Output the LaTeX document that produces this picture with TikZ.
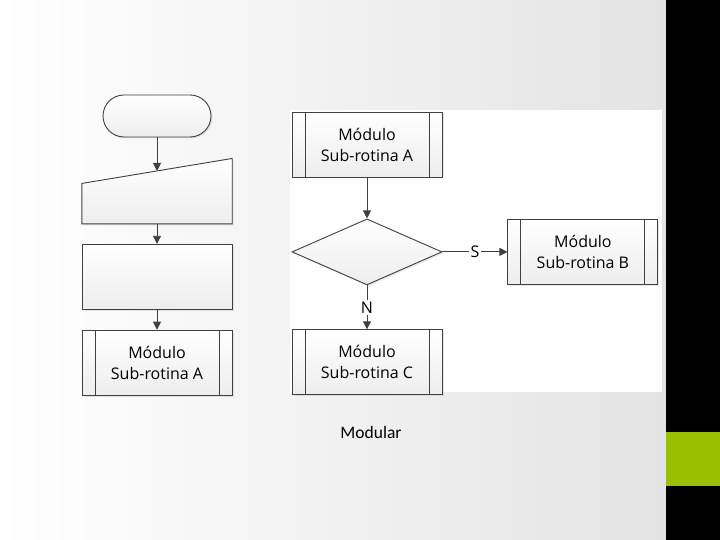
\documentclass[tikz,border=0pt]{standalone}
\usepackage{fontspec}
\setmainfont{Open Sans}
\newfontfamily\captionfont{Carlito}
\usetikzlibrary{shapes.geometric,arrows.meta,positioning,shadows}

\definecolor{linegray}{HTML}{404040}
\definecolor{slidegreen}{HTML}{99C000}

\begin{document}
\begin{tikzpicture}[x=1pt, y=1pt,
  box/.style={rectangle, draw=linegray, line width=0.9pt,
    top color=white, bottom color=gray!14,
    minimum width=150pt, minimum height=65pt, inner sep=0pt,
    font=\fontsize{16}{21}\selectfont, align=center,
    drop shadow={opacity=0.18, shadow xshift=1.5pt, shadow yshift=-1.5pt}},
  module/.style={box, path picture={
    \draw[linegray, line width=0.9pt]
      ([xshift=13pt]path picture bounding box.north west) --
      ([xshift=13pt]path picture bounding box.south west)
      ([xshift=-13pt]path picture bounding box.north east) --
      ([xshift=-13pt]path picture bounding box.south east);}},
  term/.style={box, rounded corners=21pt, minimum width=108pt,
    minimum height=42pt},
  decision/.style={box, diamond, minimum width=150pt, minimum height=66pt},
  arr/.style={-{Triangle[width=8pt,length=8pt]}, draw=linegray,
    line width=0.9pt},
  lbl/.style={font=\fontsize{16}{18}\selectfont, fill=white, inner sep=2pt}
]
  \useasboundingbox (0,0) rectangle (720,540);
  % slide background
  \shade[left color=white, right color=black!11] (0,0) rectangle (666,540);
  \fill[black] (666,0) rectangle (720,540);
  \fill[slidegreen] (666,54) rectangle (720,108);
  \fill[white] (290,148) rectangle (662,430);

  % left flowchart
  \node[term] (start) at (157,424) {};
  \node[below=21pt of start, minimum width=150pt, minimum height=65pt,
    inner sep=0pt] (input) {};
  \draw[draw=linegray, line width=0.9pt, top color=white,
    bottom color=gray!14,
    drop shadow={opacity=0.18, shadow xshift=1.5pt, shadow yshift=-1.5pt}]
    (input.south west) -- (input.south east) -- (input.north east)
    -- ([yshift=-25pt]input.north west) -- cycle;
  \node[box, below=20pt of input] (proc) {};
  \node[module, below=20pt of proc] (subA) {Módulo\\Sub-rotina A};
  \draw[arr] (start) -- ([yshift=-12.5pt]input.north);
  \draw[arr] (input) -- (proc);
  \draw[arr] (proc) -- (subA);

  % right flowchart
  \node[module] (modA) at (367,395.5) {Módulo\\Sub-rotina A};
  \node[decision, below=41pt of modA] (choice) {};
  \node[module, right=65pt of choice] (modB) {Módulo\\Sub-rotina B};
  \node[module, below=44pt of choice] (modC) {Módulo\\Sub-rotina C};
  \draw[arr] (modA) -- (choice);
  \draw[arr] (choice) -- node[lbl]{S} (modB);
  \draw[arr] (choice) -- node[lbl]{N} (modC);

  \node[font=\captionfont\fontsize{17.5}{20}\selectfont] (caption)
    at (371,108) {Modular};
\end{tikzpicture}
\end{document}
